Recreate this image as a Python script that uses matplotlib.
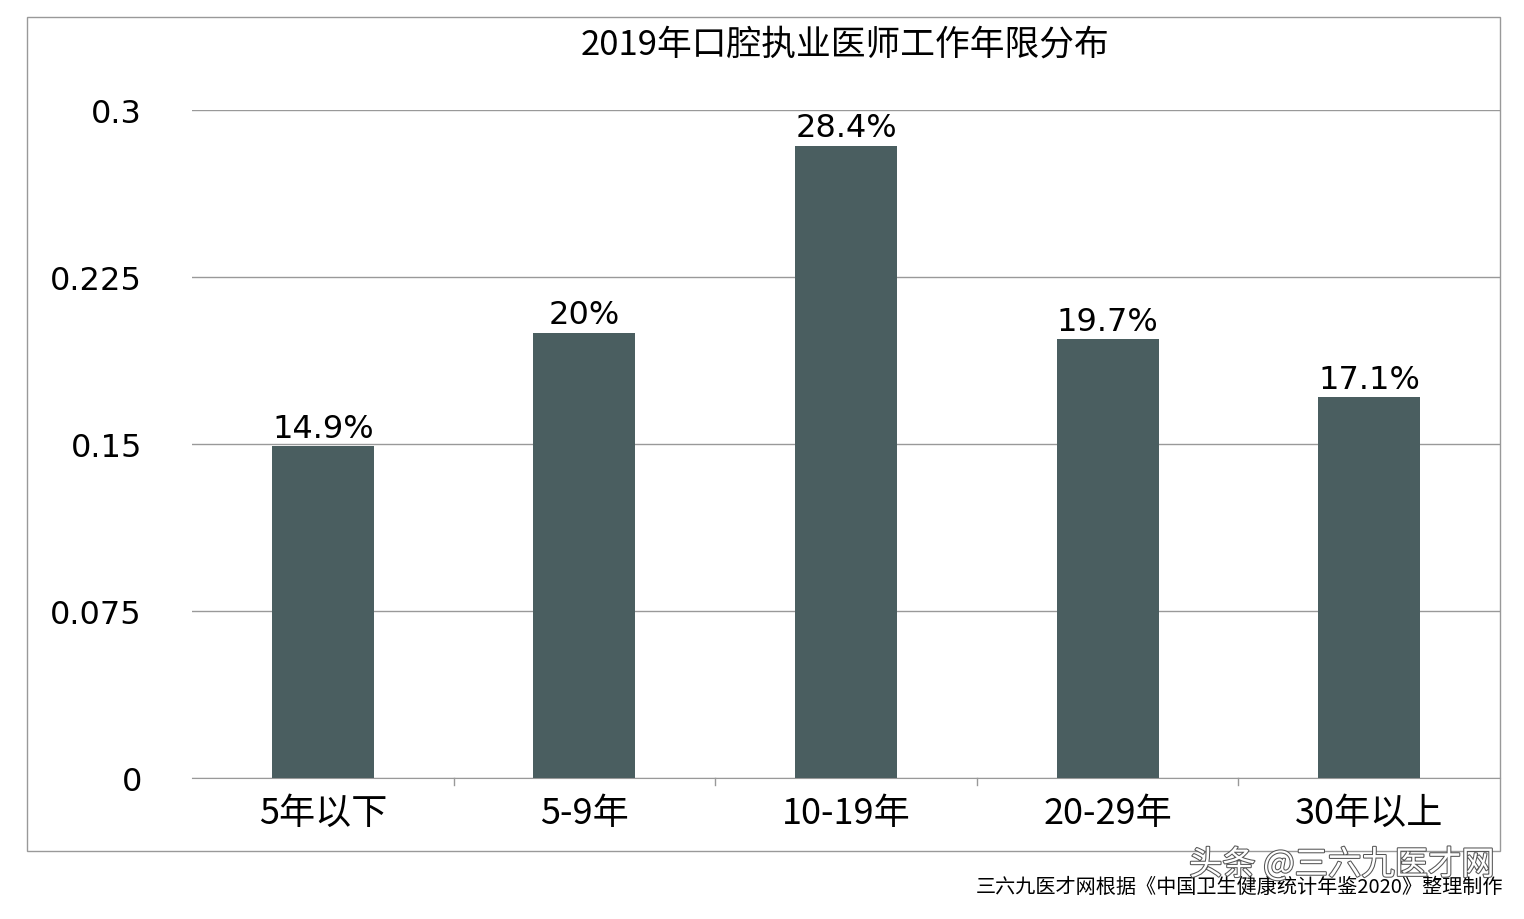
import matplotlib.pyplot as plt
import matplotlib.patheffects as pe
from matplotlib.patches import Rectangle

plt.rcParams['font.family'] = ['Noto Sans CJK SC', 'DejaVu Sans']

categories = ['5年以下', '5-9年', '10-19年', '20-29年', '30年以上']
values = [0.149, 0.200, 0.284, 0.197, 0.171]
labels = ['14.9%', '20%', '28.4%', '19.7%', '17.1%']
yticks = [0, 0.075, 0.15, 0.225, 0.3]
yticklabels = ['0', '0.075', '0.15', '0.225', '0.3']

fig = plt.figure(figsize=(15.24, 9.2), dpi=100)
# outer frame of the chart
fig.patches.append(Rectangle((27 / 1524, 1 - 852 / 920), 1473 / 1524, 834 / 920,
                             transform=fig.transFigure, fill=False,
                             edgecolor='#999999', linewidth=1))

ax = fig.add_axes([192 / 1524, 1 - 779 / 920, 1308 / 1524, 668 / 920])
x = range(len(categories))
ax.bar(x, values, width=0.39, color='#4a5e60', zorder=3)
for i, (v, t) in enumerate(zip(values, labels)):
    ax.text(i, v + 0.001, t, ha='center', va='bottom', fontsize=23,
            family=['DejaVu Sans'])

ax.set_xlim(-0.5, len(categories) - 0.5)
ax.set_ylim(0, 0.3)
ax.set_yticks(yticks)
ax.set_yticklabels(yticklabels, fontsize=23, family=['DejaVu Sans'])
ax.set_xticks(x)
ax.set_xticklabels(categories, fontsize=26)
ax.grid(axis='y', color='#999999', linewidth=1, zorder=0)
for s in ['top', 'right', 'left']:
    ax.spines[s].set_visible(False)
ax.spines['bottom'].set_color('#999999')
ax.tick_params(axis='y', length=0, pad=36)
ax.tick_params(axis='x', length=0, pad=12)
# small separators between categories on the baseline
for b in [0.5, 1.5, 2.5, 3.5]:
    ax.plot([b, b], [0, -0.003], color='#999999', lw=1, clip_on=False)

fig.text(845 / 1524, 1 - 45 / 920, '2019年口腔执业医师工作年限分布', ha='center',
         va='center', fontsize=25)
fig.text(1503 / 1524, 1 - 887 / 920, '三六九医才网根据《中国卫生健康统计年鉴2020》整理制作',
         ha='right', va='center', fontsize=14.5)
fig.text(1495 / 1524, 1 - 866 / 920, '头条 @三六九医才网', ha='right', va='center',
         fontsize=24, color='white',
         path_effects=[pe.withStroke(linewidth=1.5, foreground='#555555')])

fig.savefig('out.png', dpi=100)
